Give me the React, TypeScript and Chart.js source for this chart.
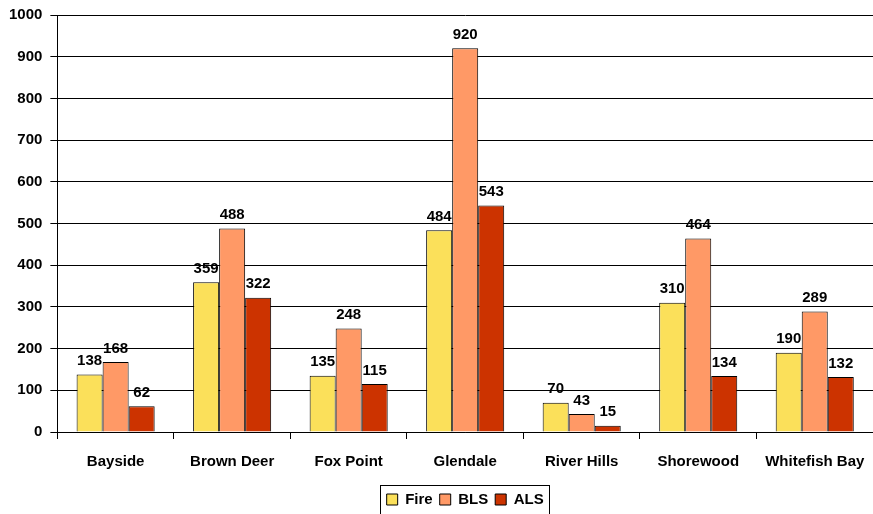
import React, { useEffect, useRef } from "react";
import { Chart, registerables } from "chart.js";

Chart.register(...registerables);

const categories = ["Bayside", "Brown Deer", "Fox Point", "Glendale", "River Hills", "Shorewood", "Whitefish Bay"];
const fireValues = [138, 359, 135, 484, 70, 310, 190];
const blsValues = [168, 488, 248, 920, 43, 464, 289];
const alsValues = [62, 322, 115, 543, 15, 134, 132];
const seriesNames = ["Fire", "BLS", "ALS"];
const seriesColors = ["#FBE05A", "#FF9966", "#CC3300"];

const FONT = "'Liberation Sans', Arial, sans-serif";

const valueLabels = {
  id: "valueLabels",
  afterDatasetsDraw(chart: any) {
    const ctx = chart.ctx;
    ctx.save();
    ctx.font = `bold 15px ${FONT}`;
    ctx.fillStyle = "#000";
    ctx.textAlign = "center";
    ctx.textBaseline = "bottom";
    chart.data.datasets.forEach((ds: any, i: number) => {
      const meta = chart.getDatasetMeta(i);
      meta.data.forEach((bar: any, j: number) => {
        ctx.fillText(String(ds.data[j]), bar.x, bar.y - 6);
      });
    });
    ctx.restore();
  },
};

const legendShift = {
  id: "legendShift",
  afterLayout(chart: any) {
    const lg = chart.legend;
    const ca = chart.chartArea;
    if (!lg || !ca) return;
    const dx = (ca.left + ca.right) / 2 - (lg.left + lg.right) / 2;
    lg.left += dx;
    lg.right += dx;
  },
};

const legendBox = {
  id: "legendBox",
  afterDraw(chart: any) {
    const lg = chart.legend;
    if (!lg || !lg.legendHitBoxes || !lg.legendHitBoxes.length) return;
    const boxes = lg.legendHitBoxes;
    let l = Infinity, r = -Infinity, t = Infinity, b = -Infinity;
    boxes.forEach((h: any) => {
      l = Math.min(l, h.left);
      r = Math.max(r, h.left + h.width);
      t = Math.min(t, h.top);
      b = Math.max(b, h.top + h.height);
    });
    const ctx = chart.ctx;
    ctx.save();
    ctx.strokeStyle = "#000";
    ctx.lineWidth = 1;
    ctx.strokeRect(Math.round(l - 7) + 0.5, Math.round(t - 7) + 0.5, Math.round(r - l + 12), Math.round(b - t + 16));
    ctx.restore();
  },
};

export default function App() {
  const ref = useRef<HTMLCanvasElement>(null);
  useEffect(() => {
    const values = [fireValues, blsValues, alsValues];
    const chart = new Chart(ref.current!, {
      type: "bar",
      data: {
        labels: categories,
        datasets: seriesNames.map((name, i) => ({
          label: name,
          data: values[i],
          backgroundColor: seriesColors[i],
          borderColor: "#000",
          borderWidth: 1,
          categoryPercentage: 0.67,
          barPercentage: 1,
        })),
      },
      options: {
        animation: false,
        responsive: false,
        maintainAspectRatio: false,
        layout: { padding: { top: 15, left: 1, right: 0, bottom: -3 } },
        plugins: {
          tooltip: { enabled: false },
          legend: {
            position: "bottom",
            labels: {
              boxWidth: 11,
              boxHeight: 11,
              color: "#000",
              padding: 7,
              font: { family: FONT, size: 15, weight: "bold" },
            },
          },
        },
        scales: {
          x: {
            grid: { offset: true, drawOnChartArea: false, drawTicks: true, tickLength: 7, color: "#000" },
            border: { color: "#000", width: 1 },
            ticks: { color: "#000", padding: 14, font: { family: FONT, size: 15, weight: "bold" }, maxRotation: 0 },
            afterFit: (s: any) => {
              s.paddingLeft = 0;
              s.paddingRight = 0;
            },
          },
          y: {
            min: 0,
            max: 1000,
            ticks: {
              stepSize: 100,
              color: "#000",
              padding: 8,
              font: { family: FONT, size: 15, weight: "bold" },
              callback: (v: any) => String(v),
            },
            grid: { color: "#000", tickLength: 7, drawTicks: true },
            border: { color: "#000", width: 1 },
            afterFit: (s: any) => {
              s.paddingTop = 0;
              s.paddingBottom = 0;
            },
          },
        },
      },
      plugins: [legendShift, valueLabels, legendBox],
    });
    return () => chart.destroy();
  }, []);
  return (
    <div style={{ position: "fixed", left: 0, top: 0, width: 873, height: 514, background: "#fff" }}>
      <canvas ref={ref} width={873} height={514} />
    </div>
  );
}
